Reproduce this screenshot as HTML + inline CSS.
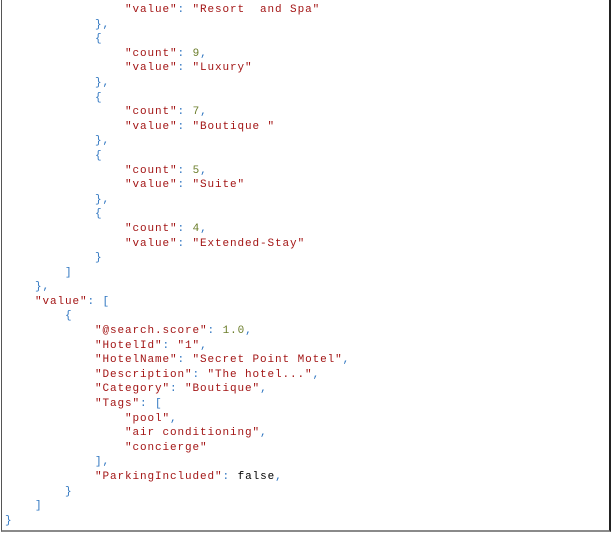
<!DOCTYPE html>
<html><head><meta charset="utf-8"><style>
html,body{margin:0;padding:0;background:#fff;}
body{width:612px;height:535px;position:relative;overflow:hidden;}
.fr{position:absolute;left:1px;top:0;width:607px;height:530px;border-left:1px solid #555;border-right:2px solid #222;border-bottom:2px solid #8a8a8a;}
pre{position:absolute;left:5px;top:3px;margin:0;font-family:"Liberation Mono",monospace;font-size:11px;line-height:14.6px;letter-spacing:0.9px;color:#a31515;white-space:pre;}
.p{color:#2e75c0}
.n{color:#6b7d2a}
.k{color:#000}
</style></head><body>
<div class="fr"></div>
<pre>                "value"<span class="p">:</span> "Resort  and Spa"
            <span class="p">},</span>
            <span class="p">{</span>
                "count"<span class="p">:</span> <span class="n">9</span><span class="p">,</span>
                "value"<span class="p">:</span> "Luxury"
            <span class="p">},</span>
            <span class="p">{</span>
                "count"<span class="p">:</span> <span class="n">7</span><span class="p">,</span>
                "value"<span class="p">:</span> "Boutique "
            <span class="p">},</span>
            <span class="p">{</span>
                "count"<span class="p">:</span> <span class="n">5</span><span class="p">,</span>
                "value"<span class="p">:</span> "Suite"
            <span class="p">},</span>
            <span class="p">{</span>
                "count"<span class="p">:</span> <span class="n">4</span><span class="p">,</span>
                "value"<span class="p">:</span> "Extended-Stay"
            <span class="p">}</span>
        <span class="p">]</span>
    <span class="p">},</span>
    "value"<span class="p">: [</span>
        <span class="p">{</span>
            "@search.score"<span class="p">:</span> <span class="n">1.0</span><span class="p">,</span>
            "HotelId"<span class="p">:</span> "1"<span class="p">,</span>
            "HotelName"<span class="p">:</span> "Secret Point Motel"<span class="p">,</span>
            "Description"<span class="p">:</span> "The hotel..."<span class="p">,</span>
            "Category"<span class="p">:</span> "Boutique"<span class="p">,</span>
            "Tags"<span class="p">: [</span>
                "pool"<span class="p">,</span>
                "air conditioning"<span class="p">,</span>
                "concierge"
            <span class="p">],</span>
            "ParkingIncluded"<span class="p">:</span> <span class="k">false</span><span class="p">,</span>
        <span class="p">}</span>
    <span class="p">]</span>
<span class="p">}</span></pre>
</body></html>
